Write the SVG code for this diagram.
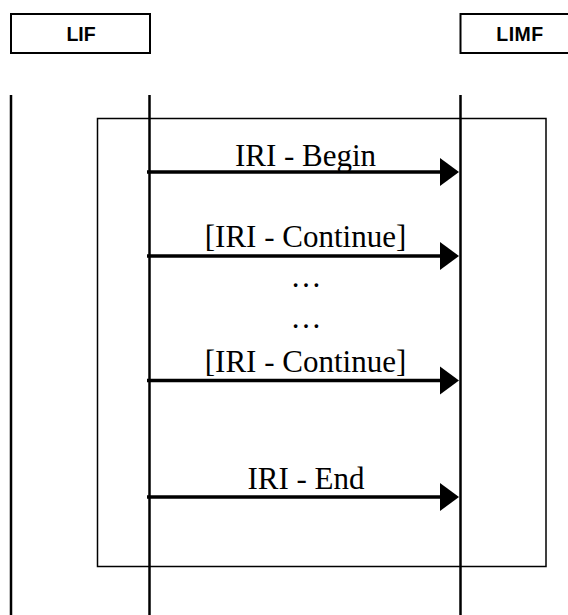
<svg xmlns="http://www.w3.org/2000/svg" width="568" height="615" viewBox="0 0 568 615">
<style>
.hdr{fill:#fff;stroke:#000;stroke-width:2}
.hl{font-family:"Liberation Sans",Arial,sans-serif;font-weight:bold;font-size:19.5px;text-anchor:middle;fill:#000}
.life{stroke:#000;stroke-width:2.5;fill:none}
.frame{fill:none;stroke:#000;stroke-width:1.5}
.msg{stroke:#000;stroke-width:3.5;fill:none}
.head{fill:#000}
.lbl{font-family:"Liberation Serif","Times New Roman",serif;font-size:31px;text-anchor:middle;fill:#000}
</style>
<rect width="568" height="615" fill="#fff"/>
<g id="LIF">
<rect class="hdr" x="11" y="14" width="139" height="39"/>
<text class="hl" x="81" y="40.5">LIF</text>
</g>
<g id="LIMF">
<rect class="hdr" x="460.5" y="14" width="120" height="39"/>
<text class="hl" x="520" y="40.5" letter-spacing="0.5">LIMF</text>
</g>
<g id="frame">
<rect class="frame" x="97.5" y="118.5" width="448.5" height="448"/>
</g>
<g id="lifelines">
<line class="life" x1="11" y1="95" x2="11" y2="615"/>
<line class="life" x1="149.5" y1="95" x2="149.5" y2="615"/>
<line class="life" x1="460.5" y1="95" x2="460.5" y2="615"/>
</g>
<g id="connectors">
<line class="msg" x1="147" y1="172" x2="442" y2="172"/>
<polygon class="head" points="440,158 459,172 440,186"/>
<line class="msg" x1="147" y1="256" x2="442" y2="256"/>
<polygon class="head" points="440,242 459,256 440,270"/>
<line class="msg" x1="147" y1="380.5" x2="442" y2="380.5"/>
<polygon class="head" points="440,366.5 459,380.5 440,394.5"/>
<line class="msg" x1="147" y1="497" x2="442" y2="497"/>
<polygon class="head" points="440,483 459,497 440,511"/>
</g>
<g id="labels">
<text class="lbl" x="305.5" y="166">IRI - Begin</text>
<text class="lbl" x="305.5" y="247">[IRI - Continue]</text>
<text class="lbl" x="306" y="287">…</text>
<text class="lbl" x="306" y="328">…</text>
<text class="lbl" x="305.5" y="372">[IRI - Continue]</text>
<text class="lbl" x="306" y="489">IRI - End</text>
</g>
</svg>
